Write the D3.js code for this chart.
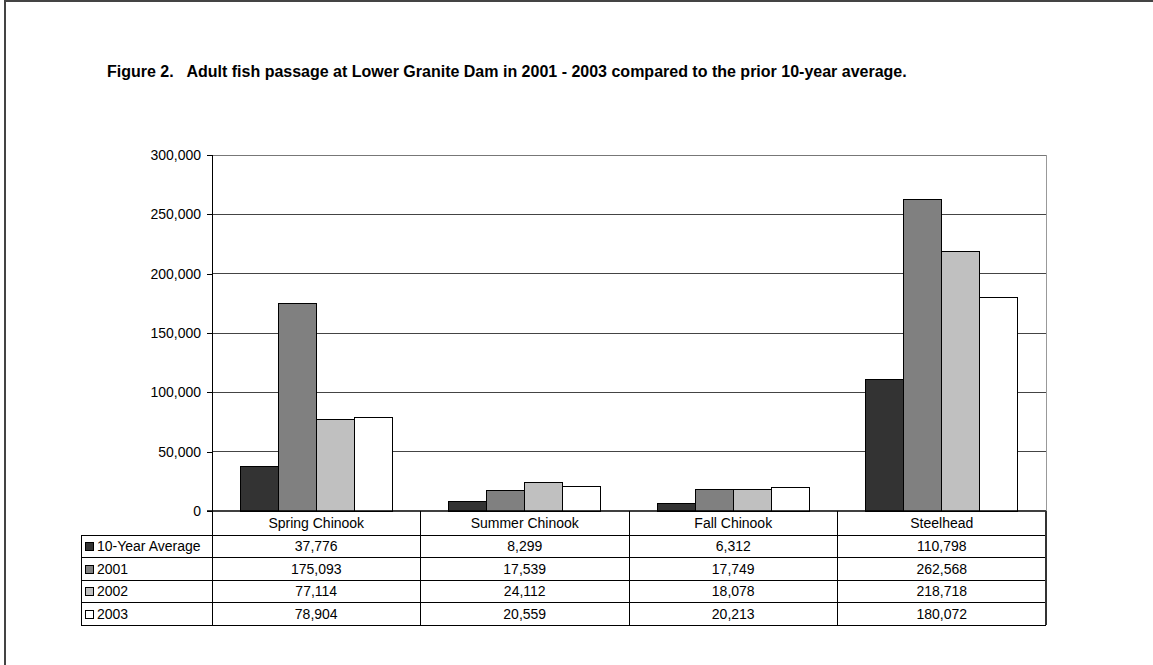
<!DOCTYPE html>
<html>
<head>
<meta charset="utf-8">
<script src="https://cdn.jsdelivr.net/npm/d3@7"></script>
<style>
  html, body { margin: 0; padding: 0; background: #fff; }
  svg { display: block; font-family: "Liberation Sans", Arial, sans-serif; }
</style>
</head>
<body>
<svg id="chart" width="1153" height="665"></svg>
<script>
// Adult fish passage counts at Lower Granite Dam
const categories = ["Spring Chinook", "Summer Chinook", "Fall Chinook", "Steelhead"];
const seriesNames = ["10-Year Average", "2001", "2002", "2003"];
const avg10 = [37776, 8299, 6312, 110798];
const y2001 = [175093, 17539, 17749, 262568];
const y2002 = [77114, 24112, 18078, 218718];
const y2003 = [78904, 20559, 20213, 180072];
const yTicks = [0, 50000, 100000, 150000, 200000, 250000, 300000];
const seriesColors = ["#333333", "#808080", "#c0c0c0", "#ffffff"];

const seriesValues = [avg10, y2001, y2002, y2003];
const title = "Figure 2.\u00a0\u00a0 Adult fish passage at Lower Granite Dam in 2001 - 2003 compared to the prior 10-year average.";

const svg = d3.select("#chart");

// outer frame
svg.append("rect")
  .attr("x", 5).attr("y", 1).attr("width", 1200).attr("height", 700)
  .attr("fill", "none").attr("stroke", "#444").attr("stroke-width", 2);

svg.append("text")
  .attr("x", 107).attr("y", 77)
  .attr("font-size", 16).attr("font-weight", "bold").attr("fill", "#000")
  .text(title);

const plot = { left: 212, right: 1046, top: 155, bottom: 511 };

const x = d3.scaleBand().domain(categories).range([plot.left, plot.right]).paddingInner(0).paddingOuter(0);
const xs = d3.scaleBand().domain(seriesNames).range([0, x.bandwidth()]).paddingInner(0).paddingOuter(0.74);
const y = d3.scaleLinear().domain([0, 300000]).range([plot.bottom, plot.top]);

// gridlines
svg.append("g").selectAll("line")
  .data(yTicks.filter(d => d > 0))
  .join("line")
  .attr("x1", plot.left).attr("x2", plot.right)
  .attr("y1", d => y(d)).attr("y2", d => y(d))
  .attr("stroke", d => d === 300000 ? "#777" : "#444").attr("stroke-width", 1)
  .attr("shape-rendering", "crispEdges");

// plot area right border
svg.append("line")
  .attr("x1", plot.right).attr("x2", plot.right)
  .attr("y1", plot.top).attr("y2", plot.bottom)
  .attr("stroke", "#999").attr("stroke-width", 1).attr("shape-rendering", "crispEdges");

// bars
const groups = svg.append("g").selectAll("g")
  .data(seriesNames.map((name, i) => ({ name, i, values: seriesValues[i] })))
  .join("g")
  .attr("fill", d => seriesColors[d.i]);

groups.selectAll("rect")
  .data(d => d.values.map((v, j) => ({ name: d.name, cat: categories[j], v })))
  .join("rect")
  .attr("x", d => x(d.cat) + xs(d.name))
  .attr("width", xs.bandwidth())
  .attr("y", d => y(d.v))
  .attr("height", d => y(0) - y(d.v))
  .attr("stroke", "#000").attr("stroke-width", 1)
  .attr("shape-rendering", "crispEdges");

// y axis
const yAxis = d3.axisLeft(y).tickValues(yTicks).tickSize(5).tickPadding(6)
  .tickFormat(d3.format(","));
const yg = svg.append("g").attr("transform", `translate(${plot.left},0)`).call(yAxis);
yg.select(".domain").remove();
yg.selectAll(".tick line").attr("stroke", "#000").attr("shape-rendering", "crispEdges");
yg.selectAll(".tick text").attr("font-size", 14).attr("fill", "#000")
  .attr("font-family", "Liberation Sans, Arial, sans-serif");

// axis line continuing into the data table
svg.append("line")
  .attr("x1", plot.left).attr("x2", plot.left)
  .attr("y1", plot.top).attr("y2", 625)
  .attr("stroke", "#000").attr("shape-rendering", "crispEdges");

// baseline
svg.append("line")
  .attr("x1", plot.left - 5).attr("x2", plot.right)
  .attr("y1", plot.bottom).attr("y2", plot.bottom)
  .attr("stroke", "#000").attr("stroke-width", 1.5);

// data table
const tableLeft = 81;
const headerBottom = 535;
const rowH = 22.5;
const rowsY = d3.range(seriesNames.length + 1).map(i => headerBottom + i * rowH);
const table = svg.append("g");

// horizontal rules
table.selectAll("line.h")
  .data(rowsY)
  .join("line")
  .attr("class", "h")
  .attr("x1", tableLeft).attr("x2", plot.right)
  .attr("y1", d => d).attr("y2", d => d)
  .attr("stroke", "#000").attr("shape-rendering", "crispEdges");

// vertical rules between categories
table.selectAll("line.v")
  .data(categories.map(c => x(c) + x.bandwidth()))
  .join("line")
  .attr("class", "v")
  .attr("x1", d => d).attr("x2", d => d)
  .attr("y1", plot.bottom).attr("y2", rowsY[rowsY.length - 1])
  .attr("stroke", (d, i) => i === categories.length - 1 ? "#333" : "#000")
  .attr("stroke-width", (d, i) => i === categories.length - 1 ? 1.5 : 1)
  .attr("shape-rendering", "crispEdges");

table.append("line")
  .attr("x1", tableLeft).attr("x2", tableLeft)
  .attr("y1", headerBottom).attr("y2", rowsY[rowsY.length - 1])
  .attr("stroke", "#000").attr("shape-rendering", "crispEdges");

// category header
table.selectAll("text.cat")
  .data(categories)
  .join("text")
  .attr("class", "cat")
  .attr("x", d => x(d) + x.bandwidth() / 2)
  .attr("y", (plot.bottom + headerBottom) / 2)
  .attr("dy", "0.33em")
  .attr("text-anchor", "middle")
  .attr("font-size", 14)
  .text(d => d);

// legend keys and series names
const rowsG = table.selectAll("g.row")
  .data(seriesNames.map((name, i) => ({ name, i, values: seriesValues[i] })))
  .join("g")
  .attr("class", "row")
  .attr("transform", d => `translate(0,${rowsY[d.i] + rowH / 2})`);

rowsG.append("rect")
  .attr("x", 85.5).attr("y", -3.5).attr("width", 8).attr("height", 8)
  .attr("fill", d => seriesColors[d.i]).attr("stroke", "#000")
  .attr("shape-rendering", "crispEdges");

rowsG.append("text")
  .attr("x", 97).attr("dy", "0.36em")
  .attr("font-size", 14)
  .text(d => d.name);

rowsG.selectAll("text.val")
  .data(d => d.values.map((v, j) => ({ v, cat: categories[j] })))
  .join("text")
  .attr("class", "val")
  .attr("x", d => x(d.cat) + x.bandwidth() / 2)
  .attr("dy", "0.36em")
  .attr("text-anchor", "middle")
  .attr("font-size", 14)
  .text(d => d3.format(",")(d.v));
</script>
</body>
</html>
